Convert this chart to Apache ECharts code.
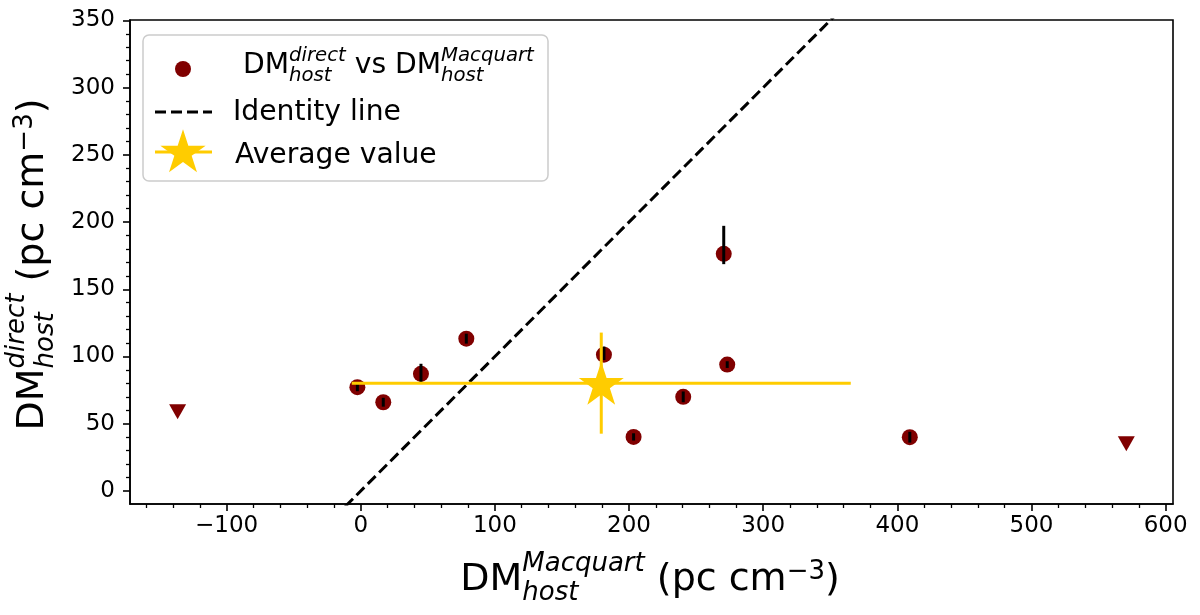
<!DOCTYPE html>
<html>
<head>
<meta charset="utf-8">
<script src="https://cdn.jsdelivr.net/npm/echarts@6/dist/echarts.min.js"></script>
<style>
html, body { margin: 0; padding: 0; background: #fff; }
#chart { width: 1200px; height: 615px; }
</style>
</head>
<body>
<div id="chart"></div>
<script>
// DM_host: direct vs Macquart
var macquartX = [-2.5, 16.8, 44.9, 78.7, 181.3, 240.4, 203.4, 270.6, 273.2, 409.3];
var directY = [77.2, 66.0, 87.1, 113.3, 101.4, 70.0, 40.2, 176.4, 94.0, 40.0];
var directErrLow = [3, 3.3, 6, 3.7, 4, 4, 2.7, 7.7, 2.5, 4];
var directErrHigh = [3, 3.3, 7.5, 3.7, 6, 4, 2.7, 20.8, 2.5, 4];
// upper limits (triangles)
var limitX = [-136.5, 570.7];
var limitY = [59.0, 35.1];
// identity line ends
var identityEnds = [-20, 360];
// average value
var avgX = 179.3;
var avgY = 80.2;
var avgXErr = 186;
var avgYErr = 37.6;
// ticks
var xTickValues = [-100, 0, 100, 200, 300, 400, 500, 600];
var yTickValues = [0, 50, 100, 150, 200, 250, 300, 350];
var xMinorStep = 20;
var yMinorStep = 10;

var X_MIN = -172, X_MAX = 605.5, Y_MIN = -9.7, Y_MAX = 350.3;
var FONT = '"DejaVu Sans", sans-serif';

var xMinor = [], yMinor = [];
for (var v = -160; v <= 600; v += xMinorStep) { if (v % 100 != 0) xMinor.push(v); }
for (var v = 0; v <= 350; v += yMinorStep) { if (v % 50 != 0) yMinor.push(v); }

function minusFmt(val) {
	return String(val).replace('-', '\u2212');
}

// 测量文字宽度
var ctx2d = document.createElement('canvas').getContext('2d');
function fontOf(size, italic) {
	return (italic ? 'italic ' : '') + size + 'px ' + FONT;
}
function textW(text, font) {
	ctx2d.font = font;
	return ctx2d.measureText(text).width;
}
var MID = 0.346; // middle -> baseline

// parts: {t, s, it, dy, under:{...}}
function mathText(parts, z) {
	var kids = [];
	var x = 0;
	parts.forEach(function(p) {
		var list = [p];
		if (p.under) list.push(p.under);
		var w = 0;
		list.forEach(function(q) {
			var f = fontOf(q.s, q.it);
			kids.push({
				type : 'text',
				z : z || 0,
				style : {
					text : q.t,
					x : x,
					y : (q.dy || 0) - MID * q.s,
					font : f,
					fill : '#000',
					textAlign : 'left',
					textVerticalAlign : 'middle'
				}
			});
			w = Math.max(w, textW(q.t, f));
		});
		x += w;
	});
	return { children : kids, width : x };
}

var TS = 38, TSS = 26;
function axisTitle(supText) {
	return [ { t : 'DM', s : TS },
			{ t : supText, s : TSS, it : true, dy : -19.5, under : { t : 'host', s : TSS, it : true, dy : 9 } },
			{ t : ' (pc cm', s : TS }, { t : '\u22123', s : TSS, dy : -11.5 }, { t : ')', s : TS } ];
}

var xTitle = mathText(axisTitle('Macquart'));
var yTitle = mathText(axisTitle('direct'));

var LS = 28.2, LSS = 19.7;
var leg1 = mathText([ { t : 'DM', s : LS },
		{ t : 'direct', s : LSS, it : true, dy : -12.5, under : { t : 'host', s : LSS, it : true, dy : 7.5 } },
		{ t : ' vs DM', s : LS },
		{ t : 'Macquart', s : LSS, it : true, dy : -12.5, under : { t : 'host', s : LSS, it : true, dy : 7.5 } } ], 101);

function starPoints(cx, cy, R) {
	var pts = [];
	for (var i = 0; i < 10; i++) {
		var r = i % 2 == 0 ? R : R * 0.381966;
		var a = -Math.PI / 2 + i * Math.PI / 5;
		pts.push([ cx + r * Math.cos(a), cy + r * Math.sin(a) ]);
	}
	return pts;
}
var starPath = 'path://M' + starPoints(0, 0, 10).map(function(p) {
	return p[0].toFixed(3) + ' ' + p[1].toFixed(3);
}).join(' L') + ' Z';

var pointData = macquartX.map(function(x, i) { return [ x, directY[i] ]; });
var errData = macquartX.map(function(x, i) {
	return [ x, directY[i] - directErrLow[i], x, directY[i] + directErrHigh[i] ];
});
var limitData = limitX.map(function(x, i) { return [ x, limitY[i] ]; });

function barItem(color) {
	return function(params, api) {
		var p1 = api.coord([ api.value(0), api.value(1) ]);
		var p2 = api.coord([ api.value(2), api.value(3) ]);
		return {
			type : 'line',
			shape : { x1 : p1[0], y1 : p1[1], x2 : p2[0], y2 : p2[1] },
			style : { stroke : color, lineWidth : 3 }
		};
	};
}

var option = {
	animation : false,
	backgroundColor : '#fff',
	grid : {
		left : 130, right : 27, top : 20, bottom : 111,
		show : true, borderColor : '#000', borderWidth : 1.6, backgroundColor : 'transparent'
	},
	xAxis : [ {
		type : 'value', min : X_MIN, max : X_MAX, position : 'bottom',
		axisLine : { show : true, onZero : false, lineStyle : { color : '#000', width : 1.6 } },
		axisTick : { show : true, customValues : xTickValues, length : 7, lineStyle : { color : '#000', width : 1.6 } },
		axisLabel : { customValues : xTickValues, formatter : minusFmt, fontSize : 23, color : '#000', fontFamily : FONT, margin : 11 },
		splitLine : { show : false }
	}, {
		type : 'value', min : X_MIN, max : X_MAX, position : 'bottom',
		axisLine : { show : false, onZero : false },
		axisTick : { show : true, customValues : xMinor, length : 4, lineStyle : { color : '#000', width : 1.3 } },
		axisLabel : { show : false },
		splitLine : { show : false }
	} ],
	yAxis : [ {
		type : 'value', min : Y_MIN, max : Y_MAX, position : 'left',
		axisLine : { show : true, onZero : false, lineStyle : { color : '#000', width : 1.6 } },
		axisTick : { show : true, customValues : yTickValues, length : 7, lineStyle : { color : '#000', width : 1.6 } },
		axisLabel : { customValues : yTickValues, formatter : minusFmt, fontSize : 23, color : '#000', fontFamily : FONT, margin : 15 },
		splitLine : { show : false }
	}, {
		type : 'value', min : Y_MIN, max : Y_MAX, position : 'left',
		axisLine : { show : false, onZero : false },
		axisTick : { show : true, customValues : yMinor, length : 4, lineStyle : { color : '#000', width : 1.3 } },
		axisLabel : { show : false },
		splitLine : { show : false }
	} ],
	series : [ {
		name : 'points',
		type : 'scatter',
		data : pointData,
		symbol : 'circle',
		symbolSize : 16,
		itemStyle : { color : '#800000', opacity : 1 },
		z : 2
	}, {
		name : 'errors',
		type : 'custom',
		data : errData,
		renderItem : barItem('#000'),
		z : 3
	}, {
		name : 'limits',
		type : 'scatter',
		data : limitData,
		symbol : 'triangle',
		symbolRotate : 180,
		symbolSize : [ 17, 15 ],
		itemStyle : { color : '#800000', opacity : 1 },
		z : 2
	}, {
		name : 'Identity line',
		type : 'line',
		data : identityEnds.map(function(v) { return [ v, v ]; }),
		showSymbol : false,
		symbol : 'none',
		lineStyle : { color : '#000', width : 3, type : [ 11, 5 ] },
		z : 4
	}, {
		name : 'avg error',
		type : 'custom',
		data : [ [ avgX - avgXErr, avgY, avgX + avgXErr, avgY ], [ avgX, avgY - avgYErr, avgX, avgY + avgYErr ] ],
		renderItem : barItem('#FFCC00'),
		z : 5
	}, {
		name : 'Average value',
		type : 'scatter',
		data : [ [ avgX, avgY ] ],
		symbol : starPath,
		symbolSize : [ 45, 43 ],
		itemStyle : { color : '#FFCC00', opacity : 1 },
		z : 6
	} ],
	graphic : {
		elements : [
		// x 轴标题
		{
			type : 'group', x : 650 - xTitle.width / 2, y : 593,
			children : xTitle.children
		},
		// y 轴标题
		{
			type : 'group', x : 46, y : 264.5 + yTitle.width / 2, rotation : Math.PI / 2,
			children : yTitle.children
		},
		// 图例
		{
			type : 'rect', shape : { x : 143, y : 35, width : 405, height : 146, r : 6 },
			style : { fill : 'rgba(255,255,255,0.8)', stroke : '#cccccc', lineWidth : 1.5 }, z : 100
		}, {
			type : 'circle', shape : { cx : 183, cy : 69, r : 8 }, style : { fill : '#800000' }, z : 101
		}, {
			type : 'group', x : 243, y : 75, children : leg1.children, z : 101
		}, {
			type : 'line', shape : { x1 : 155, y1 : 112, x2 : 212, y2 : 112 },
			style : { stroke : '#000', lineWidth : 3, lineDash : [ 11, 5 ] }, z : 101
		}, {
			type : 'text', z : 101,
			style : { text : 'Identity line', x : 233, y : 122 - MID * LS, font : fontOf(LS), fill : '#000', textVerticalAlign : 'middle' }
		}, {
			type : 'line', shape : { x1 : 155, y1 : 152, x2 : 212, y2 : 152 },
			style : { stroke : '#FFCC00', lineWidth : 3 }, z : 101
		}, {
			type : 'polygon', shape : { points : starPoints(183, 153, 23.8) },
			style : { fill : '#FFCC00' }, z : 102
		}, {
			type : 'text', z : 101,
			style : { text : 'Average value', x : 235, y : 165 - MID * LS, font : fontOf(LS), fill : '#000', textVerticalAlign : 'middle' }
		} ]
	}
};

var myChart = echarts.init(document.getElementById('chart'));
myChart.setOption(option);
</script>
</body>
</html>
